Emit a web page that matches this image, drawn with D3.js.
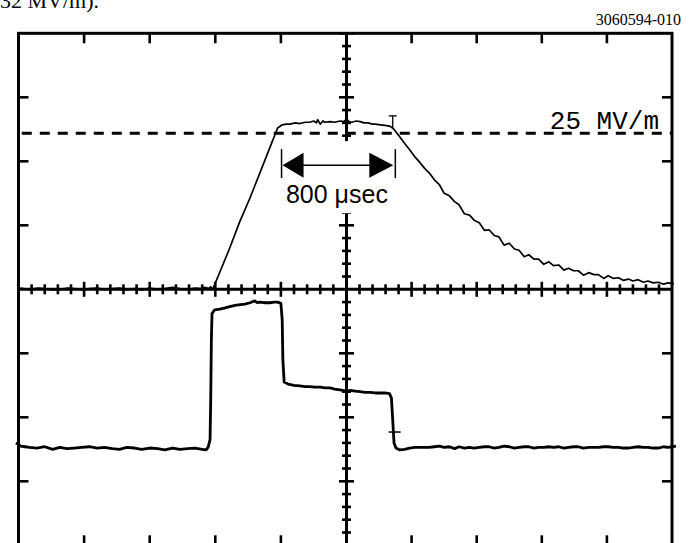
<!DOCTYPE html>
<html><head><meta charset="utf-8">
<script src="https://cdn.jsdelivr.net/npm/d3@7"></script>
<style>html,body{margin:0;padding:0;background:#fff;} svg{display:block;}</style>
</head><body>
<svg id="c" width="696" height="543"></svg>
<script>
// ---- data (time in screen divisions from centre, amplitude in divisions) ----
const eTime = [-5.02,-4.98,-4.83,-4.70,-4.60,-4.48,-4.37,-4.25,-4.15,-4.02,-3.92,-3.80,-3.69,-3.57,-3.46,-3.35,-3.23,-3.12,-3.00,-2.88,-2.77,-2.65,-2.54,-2.42,-2.31,-2.22,-2.16,-2.10,-2.07,-2.04,
  -1.93,-1.78,-1.63,-1.47,-1.32,-1.17,-1.05,-0.98,
  -0.92,-0.86,-0.78,-0.71,-0.63,-0.56,-0.50,-0.46,-0.44,-0.40,-0.36,-0.33,-0.25,-0.18,-0.10,-0.04,0.00,0.04,0.08,0.15,0.21,0.27,0.33,0.40,0.44,0.52,0.59,0.66,0.71,
  0.76,0.82,0.90,0.97,1.05,1.12,1.20,1.27,1.35,1.43,1.50,1.58,1.66,1.73,1.81,1.89,1.96,2.04,2.12,2.19,2.27,2.34,2.42,2.50,2.58,2.65,2.73,2.80,2.88,2.95,3.03,3.11,3.18,3.26,3.34,3.41,3.49,3.56,3.64,3.72,3.80,3.87,3.95,4.02,4.10,4.18,4.25,4.33,4.40,4.48,4.56,4.63,4.71,4.79,4.87,4.94,5.03];
const eValue = [0.08,0.02,0.00,0.02,0.01,-0.01,0.00,0.02,0.01,-0.01,0.01,0.02,0.00,0.01,0.02,0.00,0.01,-0.01,0.02,0.00,0.01,0.03,0.01,0.00,0.02,0.01,0.03,0.01,0.04,0.00,
  0.27,0.645,1.05,1.43,1.82,2.21,2.52,2.57,
  2.58,2.58,2.60,2.59,2.61,2.61,2.63,2.60,2.65,2.58,2.63,2.61,2.62,2.61,2.63,2.62,2.66,2.62,2.61,2.63,2.62,2.60,2.60,2.58,2.58,2.57,2.56,2.55,2.52,
  2.46,2.38,2.27,2.18,2.07,1.99,1.89,1.82,1.71,1.63,1.50,1.46,1.37,1.32,1.18,1.16,1.08,1.04,0.92,0.93,0.84,0.82,0.69,0.72,0.63,0.61,0.51,0.54,0.47,0.47,0.39,0.43,0.37,0.38,0.30,0.33,0.29,0.29,0.22,0.26,0.23,0.23,0.17,0.21,0.17,0.18,0.14,0.16,0.13,0.15,0.11,0.13,0.10,0.11,0.08,0.10,0.09];

const pTime = [-5.04,-5.00,-4.97,-4.90,-4.83,-4.72,-4.60,-4.48,-4.37,-4.26,-4.15,-4.04,-3.92,-3.80,-3.69,-3.57,-3.46,-3.35,-3.23,-3.12,-3.00,-2.88,-2.77,-2.65,-2.54,-2.42,-2.31,-2.20,-2.14,-2.11,
  -2.08,-2.07,-2.06,-2.05,-2.01,-1.93,-1.85,-1.78,-1.70,-1.62,-1.55,-1.47,-1.40,-1.36,-1.32,-1.24,-1.17,-1.10,-1.05,-1.00,
  -0.98,-0.97,-0.95,-0.89,-0.80,-0.71,-0.63,-0.56,-0.48,-0.40,-0.33,-0.25,-0.18,-0.10,0.00,0.06,0.13,0.21,0.28,0.36,0.44,0.52,0.59,0.66,
  0.69,0.71,0.73,0.76,0.82,0.89,0.97,1.05,1.15,1.27,1.35,1.43,1.50,1.58,1.66,1.73,1.81,1.89,1.96,2.04,2.12,2.19,2.27,2.34,2.42,2.50,2.58,2.65,2.73,2.80,2.88,2.95,3.03,3.11,3.18,3.26,3.34,3.41,3.49,3.56,3.64,3.72,3.80,3.87,3.95,4.02,4.10,4.18,4.25,4.33,4.40,4.48,4.56,4.63,4.71,4.79,4.87,4.94,5.06];
const pValue = [-2.40,-2.42,-2.45,-2.46,-2.47,-2.48,-2.46,-2.50,-2.47,-2.49,-2.48,-2.47,-2.46,-2.48,-2.47,-2.49,-2.50,-2.47,-2.48,-2.50,-2.48,-2.49,-2.51,-2.48,-2.50,-2.49,-2.48,-2.50,-2.51,-2.47,
  -2.35,-1.73,-0.79,-0.38,-0.32,-0.31,-0.29,-0.27,-0.25,-0.24,-0.23,-0.21,-0.18,-0.21,-0.20,-0.21,-0.21,-0.20,-0.20,-0.22,
  -0.48,-1.10,-1.45,-1.48,-1.50,-1.51,-1.52,-1.52,-1.53,-1.53,-1.54,-1.54,-1.56,-1.57,-1.59,-1.58,-1.59,-1.60,-1.61,-1.61,-1.62,-1.62,-1.62,-1.63,
  -1.70,-2.04,-2.40,-2.48,-2.51,-2.50,-2.48,-2.47,-2.47,-2.47,-2.46,-2.45,-2.47,-2.46,-2.49,-2.46,-2.48,-2.47,-2.48,-2.47,-2.46,-2.46,-2.48,-2.47,-2.45,-2.46,-2.48,-2.47,-2.46,-2.46,-2.48,-2.47,-2.47,-2.46,-2.47,-2.46,-2.48,-2.47,-2.46,-2.46,-2.48,-2.47,-2.47,-2.47,-2.46,-2.46,-2.47,-2.47,-2.48,-2.48,-2.47,-2.46,-2.47,-2.47,-2.48,-2.48,-2.46,-2.47,-2.45];

const frameDivX = [-4,-3,-2,-1,1,2,3,4];
const frameDivY = [-3,-2,-1,1,2,3];
const refLevel = 2.44, refLabel = "25 MV/m";
const pulseStart = -0.99, pulseEnd = 0.75, pulseArrowLevel = 1.94, pulseLabel = "800 μsec", pulseLabelLevel = 1.35;
const eMarker = {t: 0.71, v0: 2.52, v1: 2.71};
const pMarker = {t: 0.74, v: -2.23};
const figId = "3060594-010";
const topText = "32 MV/m).";

// ---- scales ----
const x = d3.scaleLinear().domain([-5, 0, 5]).range([18.5, 346.5, 672]);
const y = d3.scaleLinear().domain([-4, 4]).range([545.3, 33.3]);

const svg = d3.select("#c");
const K = "#000";

// cut-off text at the top and figure id
svg.append("text").attr("x", 0).attr("y", 8).attr("font-family", "Liberation Serif, Times New Roman, serif")
  .attr("font-size", 22).text(topText);
svg.append("text").attr("x", 681).attr("y", 25).attr("text-anchor", "end")
  .attr("font-family", "Liberation Serif, Times New Roman, serif").attr("font-size", 16).text(figId);

// frame
svg.append("rect").attr("x", x(-5)).attr("y", y(4)).attr("width", x(5) - x(-5)).attr("height", y(-4) - y(4))
  .attr("fill", "none").attr("stroke", K).attr("stroke-width", 3);

const g = svg.append("g").attr("stroke", K).attr("stroke-width", 2.6);
frameDivX.forEach(d => {
  g.append("line").attr("x1", x(d)).attr("x2", x(d)).attr("y1", y(4)).attr("y2", y(4) + 10);
  g.append("line").attr("x1", x(d)).attr("x2", x(d)).attr("y1", y(-4)).attr("y2", y(-4) - 10);
});
frameDivY.forEach(d => {
  g.append("line").attr("x1", x(-5)).attr("x2", x(-5) + 10).attr("y1", y(d)).attr("y2", y(d));
  g.append("line").attr("x1", x(5)).attr("x2", x(5) - 10).attr("y1", y(d)).attr("y2", y(d));
});

// centre axes with graticule ticks
g.append("line").attr("x1", x(0)).attr("x2", x(0)).attr("y1", y(4)).attr("y2", y(-4)).attr("stroke-width", 3);
g.append("line").attr("x1", x(-5)).attr("x2", x(5)).attr("y1", y(0)).attr("y2", y(0)).attr("stroke-width", 3);
const minorY = d3.range(-20, 21).map(i => i / 5).filter(v => v !== 0);
const minorX = d3.range(-24, 25).map(i => i / 5).filter(v => v !== 0);
minorY.forEach(v => {
  const h = Math.abs(v - Math.round(v)) < 1e-6 ? 7.5 : 4.5;
  g.append("line").attr("x1", x(0) - h).attr("x2", x(0) + h).attr("y1", y(v)).attr("y2", y(v));
});
minorX.forEach(v => {
  const h = Math.abs(v - Math.round(v)) < 1e-6 ? 7.5 : 5;
  g.append("line").attr("x1", x(v)).attr("x2", x(v)).attr("y1", y(0) - h).attr("y2", y(0) + h);
});

// reference dashed line + label
svg.append("line").attr("x1", x(-4.95)).attr("x2", x(5)).attr("y1", y(refLevel)).attr("y2", y(refLevel))
  .attr("stroke", K).attr("stroke-width", 3).attr("stroke-dasharray", "10,8");
svg.append("text").attr("x", x(5) - 13).attr("y", y(refLevel) - 4).attr("text-anchor", "end")
  .attr("font-family", "Liberation Mono, Courier New, monospace").attr("font-size", 26).text(refLabel);

// traces
const line = d3.line().x(d => x(d[0])).y(d => y(d[1]));
svg.append("path").datum(d3.zip(eTime, eValue)).attr("d", line)
  .attr("fill", "none").attr("stroke", K).attr("stroke-width", 1.7).attr("stroke-linejoin", "round");
svg.append("path").datum(d3.zip(pTime, pValue)).attr("d", line)
  .attr("fill", "none").attr("stroke", K).attr("stroke-width", 2.8).attr("stroke-linejoin", "round");

// cursor markers
svg.append("line").attr("x1", x(eMarker.t)).attr("x2", x(eMarker.t)).attr("y1", y(eMarker.v0)).attr("y2", y(eMarker.v1))
  .attr("stroke", K).attr("stroke-width", 1.3);
svg.append("line").attr("x1", x(eMarker.t) - 4).attr("x2", x(eMarker.t) + 4).attr("y1", y(eMarker.v1)).attr("y2", y(eMarker.v1))
  .attr("stroke", K).attr("stroke-width", 1.3);
svg.append("line").attr("x1", x(pMarker.t) - 6).attr("x2", x(pMarker.t) + 6).attr("y1", y(pMarker.v)).attr("y2", y(pMarker.v))
  .attr("stroke", K).attr("stroke-width", 1.5);

// pulse-length annotation (on a white background that hides the centre axis)
const ay = y(pulseArrowLevel), xa = x(pulseStart), xb = x(pulseEnd);
svg.append("rect").attr("x", xa - 3).attr("y", ay - 24).attr("width", xb - xa + 6).attr("height", 72).attr("fill", "#fff");
const ann = svg.append("g").attr("stroke", K).attr("stroke-width", 1.5);
ann.append("line").attr("x1", xa).attr("x2", xa).attr("y1", ay - 16).attr("y2", ay + 13);
ann.append("line").attr("x1", xb).attr("x2", xb).attr("y1", ay - 16).attr("y2", ay + 13);
ann.append("line").attr("x1", xa + 10).attr("x2", xb - 10).attr("y1", ay).attr("y2", ay);
svg.append("path").attr("d", `M${xa + 1},${ay} L${xa + 22},${ay - 12.5} L${xa + 22},${ay + 12.5} Z`).attr("fill", K);
svg.append("path").attr("d", `M${xb - 2},${ay} L${xb - 26},${ay - 12.5} L${xb - 26},${ay + 12.5} Z`).attr("fill", K);
svg.append("text").attr("x", (xa + xb) / 2 - 1.5).attr("y", y(pulseLabelLevel)).attr("text-anchor", "middle")
  .attr("font-family", "Liberation Sans, Arial, Helvetica, sans-serif").attr("font-size", 25).text(pulseLabel);
</script>
</body></html>
